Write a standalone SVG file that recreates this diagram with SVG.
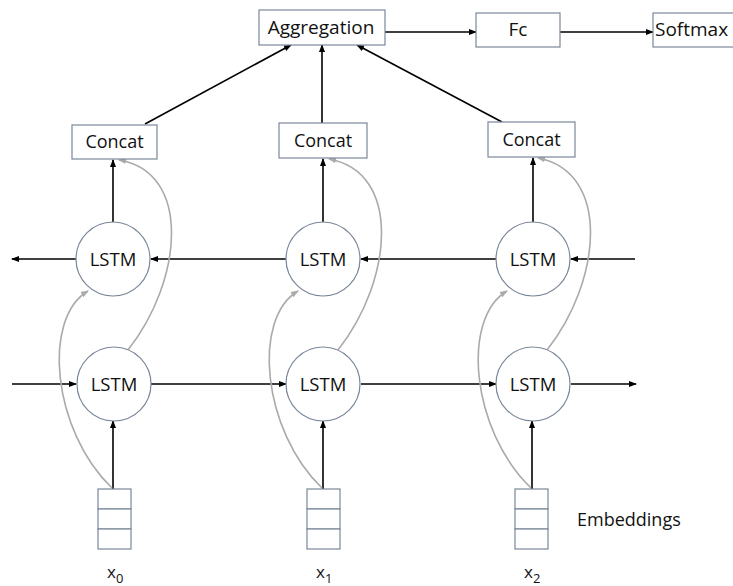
<svg xmlns="http://www.w3.org/2000/svg" width="733" height="586" viewBox="0 0 733 586">
<style>
  text { font-family: "Open Sans", "Liberation Sans", sans-serif; fill: #111; }
  .box { fill: #fff; stroke: #7a8799; stroke-width: 1.2; }
  .cell { fill: #fff; stroke: #7a8799; stroke-width: 1.2; }
  .lstm { fill: #fff; stroke: #7a8799; stroke-width: 1.2; }
  .lbl { font-size: 18px; text-anchor: middle; }
  .top { font-size: 19px; }
  .lstmt { font-size: 18.5px; text-anchor: middle; }
  .blk { stroke: #000; stroke-width: 1.6; fill: none; marker-end: url(#ah); }
  .gry { stroke: #aaaaaa; stroke-width: 1.6; fill: none; marker-end: url(#ag); }
</style>
<defs>
  <marker id="ah" markerWidth="8" markerHeight="8" refX="7" refY="4" orient="auto" markerUnits="userSpaceOnUse">
    <path d="M0,1 L8,4 L0,7 Z" fill="#000"/>
  </marker>
  <marker id="ag" markerWidth="8" markerHeight="8" refX="7" refY="4" orient="auto" markerUnits="userSpaceOnUse">
    <path d="M0,1 L8,4 L0,7 Z" fill="#aaaaaa"/>
  </marker>
</defs>
<rect width="733" height="586" fill="#fff"/>

<g id="connectors">
  <line class="blk" x1="385" y1="32" x2="476" y2="32"/>
  <line class="blk" x1="560" y1="32" x2="653" y2="32"/>
  <line class="blk" x1="145" y1="124" x2="291" y2="45"/>
  <line class="blk" x1="322" y1="123" x2="322" y2="45"/>
  <line class="blk" x1="502" y1="122" x2="357" y2="45"/>
  <line class="blk" x1="113" y1="223" x2="113" y2="160"/>
  <line class="blk" x1="323" y1="223" x2="323" y2="159"/>
  <line class="blk" x1="533" y1="223" x2="533" y2="158"/>
  <line class="blk" x1="113" y1="489" x2="113" y2="421"/>
  <line class="blk" x1="323" y1="489" x2="323" y2="421"/>
  <line class="blk" x1="532" y1="489" x2="532" y2="421"/>
  <line class="blk" x1="635" y1="259" x2="571" y2="259"/>
  <line class="blk" x1="496" y1="259" x2="361" y2="259"/>
  <line class="blk" x1="286" y1="259" x2="151" y2="259"/>
  <line class="blk" x1="76" y1="259" x2="12" y2="259"/>
  <line class="blk" x1="12" y1="384" x2="76" y2="384"/>
  <line class="blk" x1="151" y1="384" x2="286" y2="384"/>
  <line class="blk" x1="361" y1="384" x2="496" y2="384"/>
  <line class="blk" x1="571" y1="384" x2="636" y2="384"/>
  <path class="gry" d="M128,350 C183,280 192,172 119,160"/>
  <path class="gry" d="M338,350 C393,280 402,172 329,159"/>
  <path class="gry" d="M547,350 C602,280 611,172 538,158"/>
  <path class="gry" d="M112,488 C52,430 42,318 88,291"/>
  <path class="gry" d="M322,488 C262,430 252,318 298,291"/>
  <path class="gry" d="M531,488 C471,430 461,318 507,291"/>
</g>

<g id="aggregation"><rect class="box" x="259" y="10" width="126" height="35"/><text class="lbl top" x="321" y="34">Aggregation</text></g>
<g id="fc"><rect class="box" x="476" y="13" width="84" height="34"/><text class="lbl top" x="518" y="36">Fc</text></g>
<g id="softmax"><rect class="box" x="653" y="13" width="90" height="34"/><text class="top" x="655" y="36">Softmax</text></g>

<g id="concat0"><rect class="box" x="72" y="125" width="85" height="34"/><text class="lbl" x="114.5" y="148">Concat</text></g>
<g id="concat1"><rect class="box" x="279" y="123" width="88" height="35"/><text class="lbl" x="323" y="147">Concat</text></g>
<g id="concat2"><rect class="box" x="488" y="122" width="87" height="35"/><text class="lbl" x="531.5" y="146">Concat</text></g>

<g id="lstm_b0"><circle class="lstm" cx="113" cy="259" r="37"/><text class="lstmt" x="113" y="266">LSTM</text></g>
<g id="lstm_b1"><circle class="lstm" cx="323" cy="259" r="37"/><text class="lstmt" x="323" y="266">LSTM</text></g>
<g id="lstm_b2"><circle class="lstm" cx="533" cy="259" r="37"/><text class="lstmt" x="533" y="266">LSTM</text></g>

<g id="lstm_f0"><circle class="lstm" cx="114" cy="384" r="37"/><text class="lstmt" x="114" y="391">LSTM</text></g>
<g id="lstm_f1"><circle class="lstm" cx="323" cy="384" r="37"/><text class="lstmt" x="323" y="391">LSTM</text></g>
<g id="lstm_f2"><circle class="lstm" cx="533" cy="384" r="37"/><text class="lstmt" x="533" y="391">LSTM</text></g>

<g id="emb0"><rect class="cell" x="98" y="489" width="33" height="20"/><rect class="cell" x="98" y="509" width="33" height="20"/><rect class="cell" x="98" y="529" width="33" height="20"/></g>
<g id="emb1"><rect class="cell" x="307" y="489" width="33" height="20"/><rect class="cell" x="307" y="509" width="33" height="20"/><rect class="cell" x="307" y="529" width="33" height="20"/></g>
<g id="emb2"><rect class="cell" x="515" y="489" width="33" height="20"/><rect class="cell" x="515" y="509" width="33" height="20"/><rect class="cell" x="515" y="529" width="33" height="20"/></g>

<g id="labels">
  <text x="577" y="526" style="font-size:18px">Embeddings</text>
  <text x="107" y="578" style="font-size:17px">x<tspan dy="5" style="font-size:13px">0</tspan></text>
  <text x="316" y="578" style="font-size:17px">x<tspan dy="5" style="font-size:13px">1</tspan></text>
  <text x="524" y="578" style="font-size:17px">x<tspan dy="5" style="font-size:13px">2</tspan></text>
</g>
</svg>
